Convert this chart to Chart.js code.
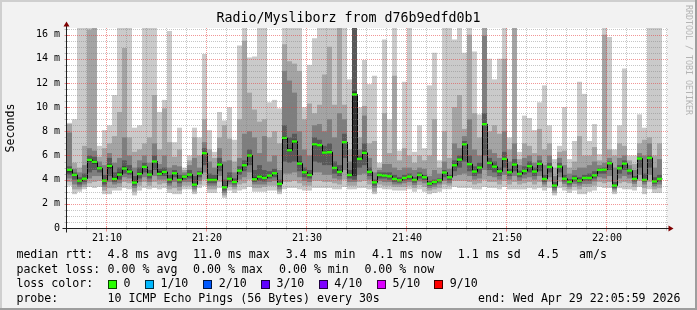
<!DOCTYPE html>
<html>
<head>
<meta charset="utf-8">
<script src="https://cdn.jsdelivr.net/npm/chart.js@4.4.1/dist/chart.umd.min.js"></script>
<style>
html,body{margin:0;padding:0;background:#f2f2f2;}
canvas{display:block;}
</style>
</head>
<body>
<canvas id="c" width="697" height="310"></canvas>
<script>
// ---- data: 10 sorted ping RTTs per 30 s sample (ms), starting 21:06:00 ----
const ping1 = [3.5,2.8,3.0,3.2,3.4,3.3,3.4,2.8,2.8,3.1, 3.1,3.3,3.2,2.7,3.1,3.3,3.2,3.3,3.2,3.3, 2.9,2.8,2.8,3.2,3.2,2.8,3.3,3.5,2.9,2.9, 3.3,2.5,3.1,2.9,3.1,3.2,3.4,3.0,3.0,3.0, 3.1,3.1,2.8,3.2,3.3,3.3,3.2,3.1,3.1,3.3, 3.3,3.3,3.3,3.2,3.2,3.4,3.2,3.2,3.3,3.3, 3.2,2.8,3.3,3.2,3.2,3.1,3.1,3.1,3.2,3.0, 3.2,3.0,2.8,2.9,3.0,3.2,3.2,3.4,3.3,3.3, 3.3,3.2,3.2,3.4,3.3,3.3,3.2,3.4,3.2,3.2, 3.2,3.2,3.3,3.2,3.3,3.1,3.3,2.7,3.3,3.1, 2.9,3.1,2.8,2.8,3.0,3.1,3.4,3.3,3.3,2.8, 3.3,3.2,3.2,3.1,3.4,2.8,3.2,2.9,2.9,null];
const ping2 = [3.8,3.2,3.2,3.4,3.7,3.8,3.9,3.1,3.3,3.3, 3.4,3.8,3.7,3.0,3.5,3.8,3.5,3.8,3.6,3.7, 3.2,3.3,3.1,3.5,3.5,3.0,3.6,4.0,3.2,3.2, 3.8,2.7,3.4,3.2,3.6,3.7,4.0,3.3,3.3,3.4, 3.5,3.5,3.0,3.8,3.8,3.9,3.7,3.5,3.5,3.9, 3.9,3.8,3.8,3.7,3.6,4.0,3.5,3.5,3.8,3.9, 3.6,3.0,3.6,3.5,3.5,3.4,3.4,3.4,3.5,3.3, 3.55,3.4,3.1,3.2,3.3,3.6,3.5,3.9,3.9,3.9, 3.8,3.6,3.7,4.0,3.8,3.8,3.6,3.9,3.6,3.8, 3.6,3.7,3.8,3.6,3.8,3.4,3.8,2.9,3.8,3.4, 3.2,3.4,3.2,3.4,3.4,3.5,3.8,3.7,3.8,3.0, 3.7,3.8,3.7,3.4,3.9,3.3,3.8,3.2,3.3,null];
const ping3 = [4.1,3.6,3.4,3.6,4.1,4.3,4.3,3.4,3.8,3.6, 3.7,4.2,4.1,3.3,3.8,4.2,3.8,4.3,4.0,4.0, 3.5,3.8,3.4,3.8,3.8,3.2,3.9,4.6,3.5,3.5, 4.3,2.9,3.6,3.4,4.0,4.2,4.6,3.6,3.6,3.6, 3.8,3.9,3.2,4.5,4.5,4.6,4.2,3.9,3.8,4.6, 4.6,4.4,4.4,4.1,4.0,4.8,3.8,3.8,4.4,4.5, 4.0,3.3,3.9,3.8,3.8,3.6,3.6,3.7,3.8,3.55, 3.85,3.7,3.3,3.4,3.6,3.9,3.7,4.3,4.4,4.5, 4.3,4.0,4.1,4.8,4.3,4.2,4.0,4.4,4.0,4.3, 3.9,4.1,4.2,4.0,4.3,3.6,4.2,3.1,4.2,3.65, 3.4,3.65,3.5,3.65,3.65,3.85,4.2,4.1,4.3,3.2, 4.1,4.3,4.1,3.65,4.4,3.6,4.4,3.45,3.6,null];
const ping4 = [4.4,4.0,3.6,3.8,4.6,4.8,4.6,3.6,4.3,3.8, 4.0,4.5,4.4,3.5,4.1,4.6,4.1,4.8,4.3,4.3, 3.7,4.2,3.7,4.0,4.1,3.4,4.2,5.2,3.7,3.7, 4.7,3.1,3.8,3.6,4.4,4.7,5.2,3.8,3.9,3.85, 4.1,4.2,3.4,5.5,5.4,5.5,4.7,4.2,4.1,5.5, 5.4,5.2,5.2,4.5,4.3,5.8,4.1,4.0,5.0,5.2, 4.3,3.5,4.1,4.1,4.0,3.8,3.75,3.9,4.0,3.75, 4.1,3.95,3.5,3.6,3.75,4.2,3.95,4.7,5.0,5.5, 4.7,4.3,4.5,6.0,4.8,4.6,4.3,5.0,4.3,4.7, 4.2,4.4,4.6,4.3,4.7,3.8,4.6,3.3,4.6,3.85, 3.6,3.85,3.7,3.9,3.9,4.1,4.5,4.5,4.8,3.3, 4.5,4.8,4.4,3.85,5.0,3.8,5.0,3.65,3.85,null];
const ping5 = [4.6,4.3,3.85,4.0,5.5,5.3,4.85,3.85,4.9,3.95, 4.3,4.8,4.6,3.7,4.4,5.0,4.35,5.4,4.55,4.6, 3.9,4.45,3.9,4.2,4.35,3.55,4.45,6.1,3.9,3.95, 5.15,3.3,4.0,3.75,4.7,5.1,5.9,3.95,4.15,4.05, 4.3,4.45,3.6,7.3,6.3,7.0,5.2,4.5,4.3,6.8, 6.75,6.15,6.2,4.9,4.55,7.0,4.3,4.3,5.65,6.1, 4.6,3.7,4.3,4.3,4.2,4.0,3.9,4.1,4.2,3.9, 4.3,4.15,3.6,3.75,3.9,4.5,4.15,5.1,5.6,6.85, 5.2,4.6,4.9,8.5,5.3,5.0,4.6,5.6,4.55,5.15, 4.4,4.65,5.0,4.6,5.2,4.0,5.0,3.45,5.0,4.0, 3.75,4.05,3.85,4.1,4.1,4.3,4.75,4.75,5.3,3.45, 4.9,5.25,4.7,4.0,5.7,3.95,5.75,3.8,4.0,null];
const ping6 = [4.9,4.5,4.0,4.15,5.75,5.6,5.0,4.0,5.3,4.2, 4.6,5.1,4.8,3.9,4.6,5.15,4.5,5.6,4.7,4.75, 4.1,4.6,4.1,4.3,4.5,3.7,4.55,6.3,4.1,4.1, 5.4,3.5,4.2,3.9,4.85,5.3,6.1,4.2,4.4,4.25, 4.4,4.6,3.7,7.6,6.6,7.3,5.5,4.7,4.5,7.0, 6.95,6.35,6.4,5.05,4.75,7.2,4.5,11.3,5.8,6.4, 4.7,3.85,4.45,4.4,4.35,4.1,4.0,4.2,4.3,4.0, 4.45,4.25,3.7,3.85,4.0,4.65,4.25,5.3,5.75,7.0, 5.4,4.75,5.1,8.7,5.5,5.2,4.8,5.8,4.7,5.35, 4.55,4.8,5.2,4.75,5.4,4.15,5.15,3.6,5.15,4.15, 3.9,4.2,4.0,4.2,4.2,4.45,4.85,4.9,5.4,3.6, 5.0,5.4,4.8,4.1,5.8,4.05,5.85,3.95,4.1,null];
const ping7 = [5.1,4.6,4.2,4.5,6.0,5.9,5.1,4.4,5.8,4.6, 5.0,5.6,5.2,4.3,5.0,5.4,4.8,6.0,4.9,5.0, 4.4,4.8,4.4,4.4,4.8,4.3,4.7,6.6,4.5,4.4, 5.8,4.0,4.6,4.1,5.1,5.6,6.5,4.8,5.2,4.8, 4.7,4.9,4.0,8.5,7.5,7.8,6.0,5.0,4.8,7.5, 7.3,6.8,7.0,5.5,5.2,7.8,4.8,18,6.0,7.0, 5.0,4.0,4.6,4.6,4.6,4.4,4.2,4.4,4.5,4.2, 4.6,4.4,3.9,4.0,4.1,4.8,4.4,5.6,6.0,7.2, 6.0,5.1,5.4,9.5,5.8,5.5,5.0,6.3,4.9,5.7, 4.75,5.1,5.5,5.0,5.6,4.4,5.4,3.8,5.4,4.4, 4.05,4.35,4.2,4.4,4.5,4.7,4.95,5.0,5.5,3.8, 5.2,5.6,4.9,4.3,5.9,4.5,6.0,4.2,4.4,null];
const ping8 = [7.9,4.9,4.6,5.2,6.6,6.4,5.5,5.2,6.2,5.4, 5.8,7.5,6.0,5.0,5.6,6.0,5.4,7.0,5.3,6.0, 5.0,5.2,5.1,4.6,5.2,5.8,5.0,7.1,5.5,5.0, 6.6,5.5,5.6,4.6,5.8,7.8,8.0,7.5,6.2,7.6, 5.5,6.0,4.8,13.0,12.2,11.2,8.0,6.5,6.0,8.5, 8.6,8.0,9.0,7.5,9.5,9.0,5.5,18,6.5,9.3, 5.8,4.6,4.8,5.3,5.3,5.0,4.8,5.0,5.0,4.8, 5.0,4.9,4.3,4.8,4.5,5.5,4.9,7.0,6.6,7.6, 9.0,6.5,6.0,15.9,6.5,6.2,5.8,8.0,5.5,7.0, 5.2,5.8,6.0,5.4,6.0,5.2,6.0,4.3,5.8,5.2, 4.5,4.8,5.0,5.0,5.2,5.5,5.2,5.4,5.8,5.0, 5.8,6.0,5.2,4.8,6.2,6.0,7.0,5.0,5.7,null];
const ping9 = [8.6,5.4,5.0,6.8,16.4,18,5.9,6.6,7.0,7.6, 9.6,14.9,7.5,6.3,6.5,7.0,7.5,11.0,6.5,9.9, 7.1,5.9,6.5,4.8,5.6,7.5,6.0,9.0,6.5,5.8, 7.5,8.5,7.4,5.5,9.0,15.5,11.2,9.8,8.8,9.0, 7.5,8.0,7.0,15.2,13.8,13.6,13.0,9.0,10.3,9.5, 10.2,12.7,15.0,10.2,18,10.2,6.5,18,7.5,10.1, 7.0,7.2,5.0,9.5,6.2,12.6,5.6,6.6,6.0,5.4, 6.0,5.6,6.0,9.0,5.0,8.0,5.8,10.0,11.0,8.2, 16.0,9.5,7.5,18,8.0,8.5,7.8,14.0,6.5,18, 5.7,7.0,6.8,6.2,8.2,6.5,7.0,5.0,6.3,6.4, 5.0,5.5,7.6,6.0,6.0,6.7,5.6,16.0,6.5,6.0, 7.0,6.8,5.6,5.3,7.0,7.3,7.5,6.0,7.0,null];
const ping10 = [8.7,9.0,18,18,18,18,6.8,8.1,8.5,11.0, 18,18,18,8.3,8.5,18,18,18,9.6,10.6, 16.3,7.1,8.3,5.0,6.0,8.3,7.5,14.4,8.1,6.3, 9.6,8.9,10.0,7.3,15.1,18,14.1,14.2,18,18, 10.4,10.6,9.9,18,18,18,18,10.0,13.5,15.7, 18,18,18,18,18,18,12.3,18,10.0,13.9, 11.9,12.6,5.4,15.6,9.0,18,6.4,12.1,18,6.3, 8.5,6.6,11.8,14.5,5.6,18,18,15.6,18,14.5, 18,14.6,9.4,18,14.0,12.3,14.0,18,7.5,18, 6.3,9.3,9.1,8.1,10.4,11.8,8.5,5.7,6.8,10.0, 5.7,7.2,12.1,11.1,7.2,8.6,6.1,18,15.8,6.5, 8.5,13.2,6.0,6.0,9.4,8.3,18,18,18,null];
const median = [4.82,4.40,3.92,4.08,5.64,5.47,4.94,3.92,5.14,4.06, 4.42,4.92,4.67,3.76,4.47,5.06,4.42,5.50,4.47,4.64, 4.00,4.53,3.98,4.25,4.42,3.59,4.50,6.19,3.98,3.98, 5.25,3.37,4.08,3.81,4.75,5.19,6.00,4.03,4.25,4.14, 4.34,4.53,3.65,7.46,6.43,7.16,5.33,4.61,4.39,6.93, 6.85,6.24,6.27,4.97,4.64,7.10,4.39,11.05,5.72,6.22, 4.64,3.78,4.39,4.34,4.28,4.06,3.95,4.14,4.25,3.98, 4.39,4.20,3.67,3.81,3.95,4.59,4.20,5.19,5.66,6.93, 5.28,4.67,5.00,8.59,5.39,5.08,4.69,5.72,4.61,5.25, 4.47,4.72,5.11,4.67,5.31,4.06,5.06,3.51,5.08,4.08, 3.81,4.11,3.92,4.14,4.14,4.36,4.81,4.83,5.36,3.51, 4.94,5.33,4.75,4.06,5.75,3.98,5.80,3.86,4.06,null];

const sampleMinutes = 0.5;                 // 30 s step, minutes since 21:06:00
const timeTickMinutes = [4, 14, 24, 34, 44, 54];
const timeTickLabels = ['21:10', '21:20', '21:30', '21:40', '21:50', '22:00'];
const yTickValues = [0, 2, 4, 6, 8, 10, 12, 14, 16];
const yTickLabels = ['0', '2 m', '4 m', '6 m', '8 m', '10 m', '12 m', '14 m', '16 m'];

const titleText = 'Radio/Mysliborz from d76b9edfd0b1';
const yTitle = 'Seconds';
const watermark = 'RRDTOOL / TOBI OETIKER';
const rttRow = ['median rtt:', '4.8 ms avg', '11.0 ms max', '3.4 ms min', '4.1 ms now', '1.1 ms sd', '4.5', 'am/s'];
const lossRow = ['packet loss:', '0.00 % avg', '0.00 % max', '0.00 % min', '0.00 % now'];
const lossColorLabel = 'loss color:';
const lossKeys = ['0', '1/10', '2/10', '3/10', '4/10', '5/10', '9/10'];
const lossColors = ['#26ff00', '#00b8ff', '#0059ff', '#5e00ff', '#7e00ff', '#dd00ff', '#ff0000'];
const probeRow = ['probe:', '10 ICMP Echo Pings (56 Bytes) every 30s'];
const endText = 'end: Wed Apr 29 22:05:59 2026';

// ---- build datasets ----
const MONO = 'DejaVu Sans Mono';
const W = 697, H = 310;
const GRID = 'rgba(128,128,128,0.45)';
const MGRID = 'rgba(230,64,64,0.55)';

function bandData(lo, hi) {
  const out = [];
  for (let i = 0; i < lo.length; i++) {
    if (lo[i] == null || hi[i] == null) continue;
    out.push({x: sampleMinutes * (i + 0.5), y: [lo[i], hi[i]]});
  }
  return out;
}
const medianHalf = 0.1;
const greenData = [];
const lineData = [];
const nudge = 0.05;
let lastI = -1;
median.forEach((m, i) => {
  if (m == null) return;
  greenData.push({x: sampleMinutes * (i + 0.5), y: [m - medianHalf, m + medianHalf]});
  lineData.push({x: sampleMinutes * i + nudge, y: m});
  lastI = i;
});
lineData.push({x: sampleMinutes * (lastI + 1) + nudge, y: median[lastI]});

const smoke = [
  [ping5, ping6, '#323232'],
  [ping4, ping7, '#585858'],
  [ping3, ping8, '#7e7e7e'],
  [ping2, ping9, '#a4a4a4'],
  [ping1, ping10, '#cacaca']
];

const datasets = [
  {type: 'bar', label: 'median', data: greenData, backgroundColor: lossColors[0], order: 0},
  {type: 'line', label: 'medianLine', data: lineData, borderColor: '#000', borderWidth: 1,
   pointRadius: 0, stepped: 'before', fill: false, tension: 0, order: 1}
];
smoke.forEach((s, k) => {
  datasets.push({type: 'bar', label: 'smoke' + k, data: bandData(s[0], s[1]), backgroundColor: s[2], order: 2 + k});
});

function dotRow(ctx, y, x1, x2, color) {
  ctx.fillStyle = color;
  for (let x = x1; x <= x2; x += 2) ctx.fillRect(x, y, 1, 1);
}
function dotCol(ctx, x, y1, y2, color) {
  ctx.fillStyle = color;
  for (let y = y1; y <= y2; y += 2) ctx.fillRect(x, y, 1, 1);
}

const rrdPlugin = {
  id: 'rrd',
  beforeDraw(chart) {
    const {ctx, chartArea: a} = chart;
    ctx.save();
    ctx.fillStyle = '#f2f2f2'; ctx.fillRect(0, 0, W, H);
    ctx.fillStyle = '#cfcfcf'; ctx.fillRect(0, 0, W, 2); ctx.fillRect(0, 0, 2, H);
    ctx.fillStyle = '#9e9e9e'; ctx.fillRect(0, H - 2, W, 2); ctx.fillRect(W - 2, 0, 2, H);
    ctx.fillStyle = '#ffffff'; ctx.fillRect(a.left, a.top, a.right - a.left, a.bottom - a.top);
    ctx.restore();
  },
  afterDatasetsDraw(chart) {
    const {ctx, chartArea: a} = chart;
    const xs = chart.scales.x, ys = chart.scales.y;
    ctx.save();
    // horizontal grid (every 0.5 ms, red every 2 ms)
    for (const t of ys.ticks) {
      if (t.value === 0) continue;
      const row = Math.round(ys.getPixelForValue(t.value));
      const major = t.value % 2 === 0;
      dotRow(ctx, row, a.left, a.right, major ? MGRID : GRID);
    }
    // vertical grid (every 2 min, red every 10 min)
    for (const t of xs.ticks) {
      if (t.value === 0) continue;
      const col = Math.round(xs.getPixelForValue(t.value)) - 1;
      const major = timeTickMinutes.includes(t.value);
      dotCol(ctx, col, a.top, a.bottom, major ? MGRID : GRID);
    }
    ctx.restore();
  },
  afterDraw(chart) {
    const {ctx, chartArea: a} = chart;
    const xs = chart.scales.x, ys = chart.scales.y;
    const X0 = a.left - 0.5, Y0 = a.bottom + 0.5, XR = a.right - 0.5, YT = a.top + 0.5;
    ctx.save();
    // tick marks on axes
    ctx.lineWidth = 1;
    for (const t of ys.ticks) {
      if (t.value === 0) continue;
      const y = Math.round(ys.getPixelForValue(t.value)) + 0.5;
      const major = t.value % 2 === 0;
      ctx.strokeStyle = major ? MGRID : GRID;
      ctx.beginPath(); ctx.moveTo(X0 - 2, y); ctx.lineTo(X0 + (major ? 3 : 2), y); ctx.stroke();
    }
    for (const t of xs.ticks) {
      if (t.value === 0) continue;
      const x = Math.round(xs.getPixelForValue(t.value)) - 0.5;
      const major = timeTickMinutes.includes(t.value);
      ctx.strokeStyle = major ? MGRID : GRID;
      ctx.beginPath(); ctx.moveTo(x, Y0 - 2); ctx.lineTo(x, Y0 + (major ? 3 : 2)); ctx.stroke();
    }
    // axes
    ctx.strokeStyle = '#202020';
    ctx.beginPath();
    ctx.moveTo(X0 - 4, Y0); ctx.lineTo(XR + 5, Y0);
    ctx.moveTo(X0, Y0 + 4); ctx.lineTo(X0, YT - 5);
    ctx.stroke();
    ctx.fillStyle = '#7f0000';
    ctx.beginPath();
    ctx.moveTo(XR + 2, Y0 - 3); ctx.lineTo(XR + 2, Y0 + 3); ctx.lineTo(XR + 7, Y0); ctx.closePath(); ctx.fill();
    ctx.beginPath();
    ctx.moveTo(X0 - 3, YT - 2); ctx.lineTo(X0 + 3, YT - 2); ctx.lineTo(X0, YT - 7); ctx.closePath(); ctx.fill();

    // title
    ctx.fillStyle = '#000';
    ctx.textBaseline = 'middle';
    ctx.textAlign = 'center';
    ctx.font = '13.3px "' + MONO + '"';
    ctx.fillText(titleText, W / 2, 19);
    // y title
    ctx.save();
    ctx.translate(11, (a.top + a.bottom) / 2);
    ctx.rotate(-Math.PI / 2);
    ctx.font = '11.6px "' + MONO + '"';
    ctx.fillText(yTitle, 0, 0);
    ctx.restore();
    // watermark
    ctx.save();
    ctx.translate(688, 5);
    ctx.rotate(Math.PI / 2);
    ctx.textAlign = 'left';
    ctx.fillStyle = '#b4b4b4';
    ctx.font = '8.3px "' + MONO + '"';
    ctx.fillText(watermark, 0, 0);
    ctx.restore();

    // legend
    ctx.font = '11.6px "' + MONO + '"';
    ctx.textAlign = 'left';
    ctx.fillStyle = '#000';
    const rows = [255, 269.5, 284, 298.5];
    const rttX = [16.4, 107.6, 193, 285.8, 372, 457.8, 537.8, 579];
    rttRow.forEach((t, k) => ctx.fillText(t, rttX[k], rows[0]));
    const lossX = [16.4, 107.6, 193, 279, 364.4];
    lossRow.forEach((t, k) => ctx.fillText(t, lossX[k], rows[1]));
    ctx.fillText(lossColorLabel, 16.4, rows[2]);
    const keyX = [123.6, 160.4, 218.7, 276.4, 334.2, 392.4, 449.8];
    lossKeys.forEach((t, k) => {
      const bx = Math.round(keyX[k] - 15.5);
      const by = Math.round(rows[2] - 4.5);
      ctx.fillStyle = lossColors[k];
      ctx.fillRect(bx, by, 9, 9);
      ctx.strokeStyle = 'rgba(0,0,0,0.75)';
      ctx.strokeRect(bx + 0.5, by + 0.5, 8, 8);
      ctx.fillStyle = '#000';
      ctx.fillText(t, keyX[k], rows[2]);
    });
    ctx.fillText(probeRow[0], 16.4, rows[3]);
    ctx.fillText(probeRow[1], 107.6, rows[3]);
    ctx.textAlign = 'right';
    ctx.fillText(endText, 680.5, rows[3]);
    ctx.restore();
  }
};

Chart.defaults.font.family = MONO;
new Chart(document.getElementById('c'), {
  type: 'bar',
  data: {datasets},
  options: {
    responsive: false,
    devicePixelRatio: 1,
    animation: false,
    events: [],
    layout: {padding: {left: 0, right: 30, top: 28, bottom: 0}},
    datasets: {
      bar: {grouped: false, barPercentage: 1, categoryPercentage: 1, inflateAmount: 0, borderWidth: 0}
    },
    plugins: {legend: {display: false}, tooltip: {enabled: false}, title: {display: false}},
    scales: {
      x: {
        type: 'linear', min: 0, max: 60, offset: false,
        grid: {display: false, offset: false, drawTicks: false},
        border: {display: false},
        ticks: {stepSize: 2, autoSkip: false, maxRotation: 0, minRotation: 0, padding: 4, color: '#000',
                font: {family: MONO, size: 10},
                callback: (v) => { const k = timeTickMinutes.indexOf(v); return k >= 0 ? timeTickLabels[k] : ''; }},
        afterFit: (s) => { s.height = 82; }
      },
      y: {
        type: 'linear', min: 0, max: 16.55,
        grid: {display: false, drawTicks: false},
        border: {display: false},
        ticks: {stepSize: 0.5, autoSkip: false, includeBounds: false, padding: 7, color: '#000',
                font: {family: MONO, size: 10},
                callback: (v) => { const k = yTickValues.indexOf(v); return k >= 0 ? yTickLabels[k] : ''; }},
        afterFit: (s) => { s.width = 67; }
      }
    }
  },
  plugins: [rrdPlugin]
});
</script>
</body>
</html>
